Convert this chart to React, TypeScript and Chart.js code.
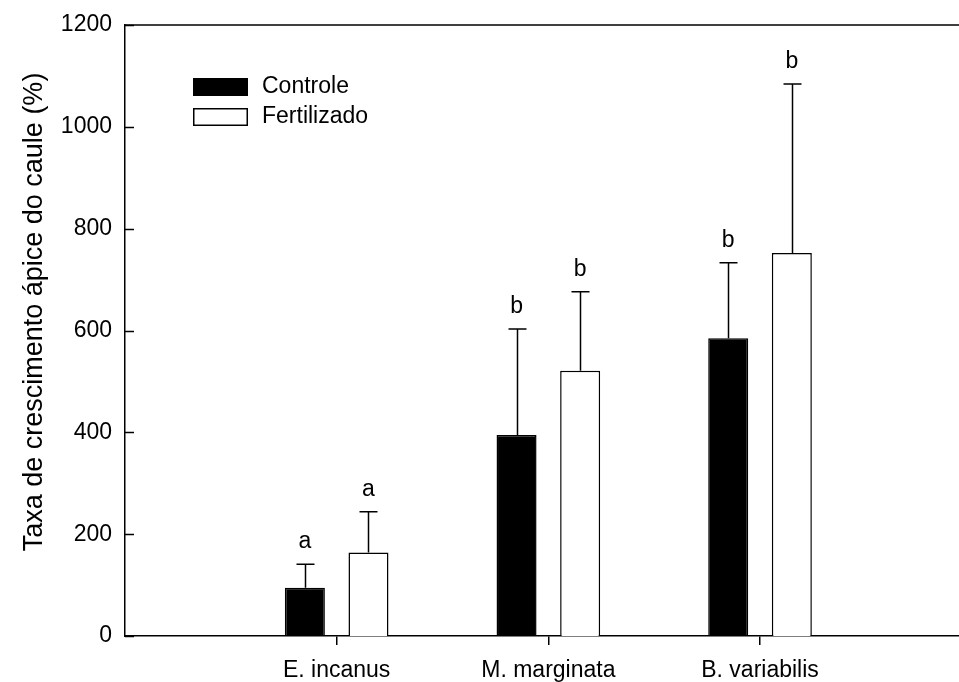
import React, { useEffect, useRef } from "react";
import { Chart, registerables } from "chart.js";

Chart.register(...registerables);

// Species on the x axis
const species = ["E. incanus", "M. marginata", "B. variabilis"];
const speciesPos = [1, 2, 3];

// Mean apical growth rate (%) per treatment
const controle = [95, 395, 585];
const fertilizado = [164, 521, 752];

// Upper error (standard deviation) per treatment
const controleErr = [46, 208, 148];
const fertilizadoErr = [80, 155, 332];

// Significance letters above each bar
const controleLetters = ["a", "b", "b"];
const fertilizadoLetters = ["a", "b", "b"];

// Y axis range and step
const yMin = 0;
const yMax = 1200;
const yStep = 200;

const yTitle = "Taxa de crescimento ápice do caule (%)";
const FONT = "'Liberation Sans', Arial, Helvetica, sans-serif";

const errorBarsPlugin = {
  id: "errorBars",
  afterDatasetsDraw(chart: any) {
    const ctx = chart.ctx;
    const y = chart.scales.y;
    const errs = [controleErr, fertilizadoErr];
    const letters = [controleLetters, fertilizadoLetters];
    ctx.save();
    ctx.strokeStyle = "#000";
    ctx.fillStyle = "#000";
    ctx.lineWidth = 1.5;
    ctx.font = `23px ${FONT}`;
    ctx.textAlign = "center";
    ctx.textBaseline = "alphabetic";
    chart.data.datasets.forEach((ds: any, i: number) => {
      const meta = chart.getDatasetMeta(i);
      meta.data.forEach((bar: any, j: number) => {
        const v = ds.data[j].y;
        const top = y.getPixelForValue(v);
        const cap = y.getPixelForValue(v + errs[i][j]);
        const x = Math.round(bar.x) + 0.5;
        ctx.beginPath();
        ctx.moveTo(x, top);
        ctx.lineTo(x, cap);
        ctx.moveTo(x - 9, cap);
        ctx.lineTo(x + 9, cap);
        ctx.stroke();
        ctx.fillText(letters[i][j], bar.x, cap - 16);
      });
    });
    ctx.restore();
  },
};

const framePlugin = {
  id: "frame",
  afterDraw(chart: any) {
    const ctx = chart.ctx;
    const { left, right, top } = chart.chartArea;
    const y = chart.scales.y;
    ctx.save();
    ctx.strokeStyle = "#000";
    ctx.lineWidth = 1.5;
    // top border
    ctx.beginPath();
    ctx.moveTo(left, top);
    ctx.lineTo(right, top);
    ctx.stroke();
    // inward y ticks
    y.ticks.forEach((t: any) => {
      const py = Math.round(y.getPixelForValue(t.value)) + 0.5;
      ctx.beginPath();
      ctx.moveTo(left, py);
      ctx.lineTo(left + 9, py);
      ctx.stroke();
    });
    // y axis title
    ctx.fillStyle = "#000";
    ctx.font = `27px ${FONT}`;
    ctx.textAlign = "center";
    ctx.textBaseline = "alphabetic";
    ctx.translate(42, top + 287);
    ctx.rotate(-Math.PI / 2);
    ctx.fillText(yTitle, 0, 0);
    ctx.restore();

    // legend
    ctx.save();
    const lx = left + 68;
    const ly = top + 53;
    ctx.fillStyle = "#000";
    ctx.fillRect(lx, ly, 55, 18);
    ctx.strokeStyle = "#000";
    ctx.lineWidth = 1.5;
    ctx.fillStyle = "#fff";
    ctx.fillRect(lx + 0.75, ly + 30.75, 53.5, 16.5);
    ctx.strokeRect(lx + 0.75, ly + 30.75, 53.5, 16.5);
    ctx.fillStyle = "#000";
    ctx.font = `23px ${FONT}`;
    ctx.textAlign = "left";
    ctx.textBaseline = "middle";
    chart.data.datasets.forEach((ds: any, i: number) => {
      ctx.fillText(ds.label, lx + 69, ly + 9 + i * 30);
    });
    ctx.restore();
  },
};

export default function App() {
  const ref = useRef<HTMLCanvasElement>(null);

  useEffect(() => {
    document.body.style.margin = "0";
    const canvas = ref.current;
    if (!canvas) return;
    const chart = new Chart(canvas, {
      type: "bar",
      data: {
        datasets: [
          {
            label: "Controle",
            data: speciesPos.map((x, i) => ({ x, y: controle[i] })),
            backgroundColor: "#000",
            borderColor: "#000",
            borderWidth: 1.5,
          },
          {
            label: "Fertilizado",
            data: speciesPos.map((x, i) => ({ x, y: fertilizado[i] })),
            backgroundColor: "#fff",
            borderColor: "#000",
            borderWidth: 1.5,
          },
        ],
      },
      options: {
        responsive: false,
        animation: false,
        categoryPercentage: 0.601,
        barPercentage: 0.629,
        layout: { padding: { top: 25, right: 0, bottom: 0, left: 0 } },
        plugins: {
          legend: { display: false },
          tooltip: { enabled: false },
        },
        scales: {
          x: {
            type: "linear",
            offset: false,
            min: 0,
            max: 3.94,
            afterBuildTicks: (scale: any) => {
              scale.ticks = speciesPos.map((v) => ({ value: v }));
            },
            afterFit: (scale: any) => {
              scale.height = 46;
            },
            grid: {
              display: true,
              offset: false,
              drawOnChartArea: false,
              drawTicks: true,
              tickLength: 9,
              color: "#000",
              lineWidth: 1.5,
            },
            border: { display: true, color: "#000", width: 1.5 },
            ticks: {
              color: "#000",
              padding: 12,
              maxRotation: 0,
              font: { size: 23, family: FONT },
              callback: (v: any) => species[speciesPos.indexOf(Number(v))] ?? "",
            },
          },
          y: {
            min: yMin,
            max: yMax,
            afterFit: (scale: any) => {
              scale.width = 125;
            },
            grid: { display: false },
            border: { display: true, color: "#000", width: 1.5 },
            ticks: {
              stepSize: yStep,
              color: "#000",
              padding: 5,
              font: { size: 23, family: FONT },
              callback: (v: any) => String(v),
            },
          },
        },
      },
      plugins: [errorBarsPlugin, framePlugin],
    });
    return () => chart.destroy();
  }, []);

  return (
    <div style={{ width: 959, height: 682 }}>
      <canvas ref={ref} width={959} height={682} style={{ display: "block" }} />
    </div>
  );
}
